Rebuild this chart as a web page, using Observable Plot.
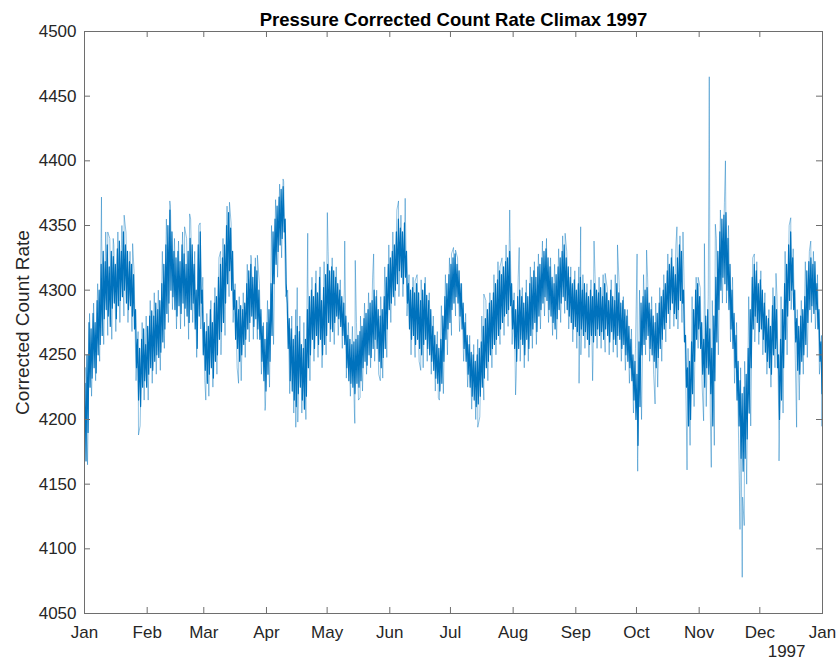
<!DOCTYPE html>
<html><head><meta charset="utf-8">
<script src="https://cdn.jsdelivr.net/npm/d3@7"></script>
<script src="https://cdn.jsdelivr.net/npm/@observablehq/plot@0.6"></script>
<style>body{margin:0;background:#fff;font-family:"Liberation Sans",Arial,Helvetica,sans-serif}</style>
</head><body><div id="chart"></div><script>
// Daily lower / upper extent of the dense core band (day 0 = 1 Jan 1997)
const lo = [
4168,4190,4225,4232,4240,4236,4250,4258,4265,4278,
4285,4280,4272,4286,4290,4278,4288,4292,4295,4300,
4290,4285,4288,4280,4270,4240,4215,4210,4225,4230,
4225,4235,4240,4238,4245,4250,4248,4252,4260,4270,
4282,4290,4300,4295,4285,4280,4288,4282,4290,4286,
4280,4275,4285,4290,4270,4255,4280,4290,4250,4238,
4228,4235,4240,4232,4245,4250,4262,4268,4275,4290,
4305,4315,4300,4285,4262,4255,4245,4250,4258,4262,
4270,4275,4280,4272,4278,4270,4262,4245,4230,4222,
4235,4245,4265,4305,4320,4330,4335,4340,4345,4305,
4255,4230,4222,4215,4210,4220,4225,4215,4208,4218,
4240,4250,4262,4255,4265,4258,4262,4250,4258,4265,
4275,4270,4268,4275,4280,4278,4272,4265,4258,4240,
4230,4228,4225,4220,4228,4225,4230,4240,4245,4242,
4250,4248,4255,4262,4255,4245,4240,4248,4255,4270,
4285,4290,4295,4300,4305,4315,4310,4305,4310,4290,
4270,4262,4265,4258,4262,4255,4250,4258,4262,4255,
4250,4245,4238,4232,4228,4222,4228,4245,4262,4270,
4275,4285,4290,4295,4290,4280,4270,4255,4245,4235,
4225,4218,4215,4210,4212,4218,4225,4232,4240,4245,
4250,4255,4258,4262,4265,4270,4275,4280,4282,4285,
4288,4270,4255,4245,4255,4262,4258,4250,4262,4255,
4265,4270,4275,4268,4280,4285,4290,4295,4292,4285,
4280,4275,4270,4278,4285,4290,4295,4292,4285,4280,
4275,4270,4272,4268,4265,4270,4265,4268,4262,4258,
4265,4260,4265,4270,4265,4268,4262,4270,4265,4260,
4268,4262,4258,4265,4262,4255,4258,4250,4245,4240,
4230,4215,4200,4180,4210,4250,4258,4262,4265,4255,
4250,4245,4240,4248,4255,4262,4270,4275,4282,4285,
4290,4282,4278,4285,4292,4290,4260,4225,4195,4200,
4220,4245,4262,4270,4255,4235,4225,4240,4235,4220,
4195,4230,4260,4285,4300,4310,4305,4300,4285,4270,
4255,4240,4215,4195,4170,4160,4170,4185,4205,4240,
4270,4280,4275,4268,4270,4262,4252,4245,4240,4235,
4250,4255,4240,4200,4215,4240,4262,4280,4292,4300,
4285,4260,4238,4235,4245,4250,4258,4275,4285,4288,
4282,4285,4270,4245,4220];
const hi = [
4228,4250,4275,4270,4282,4275,4292,4300,4320,4330,
4322,4335,4318,4330,4326,4320,4332,4338,4330,4345,
4335,4330,4322,4320,4312,4285,4262,4255,4262,4270,
4258,4272,4280,4284,4280,4290,4285,4292,4305,4320,
4335,4350,4362,4345,4330,4325,4330,4322,4335,4328,
4320,4330,4340,4335,4320,4300,4335,4345,4300,4275,
4268,4272,4285,4275,4290,4295,4310,4320,4325,4335,
4350,4360,4348,4330,4300,4292,4285,4288,4285,4290,
4305,4315,4320,4310,4318,4315,4300,4285,4272,4262,
4275,4285,4305,4345,4355,4365,4372,4378,4380,4355,
4290,4278,4270,4262,4265,4272,4268,4258,4255,4262,
4285,4295,4300,4295,4305,4298,4310,4292,4302,4312,
4320,4315,4318,4315,4310,4305,4300,4295,4290,4280,
4265,4262,4258,4260,4262,4265,4268,4272,4278,4282,
4285,4290,4292,4300,4295,4285,4280,4285,4295,4310,
4320,4325,4330,4335,4345,4355,4348,4345,4352,4330,
4305,4300,4302,4298,4305,4298,4292,4300,4305,4296,
4292,4285,4272,4265,4258,4255,4262,4280,4295,4305,
4312,4320,4325,4328,4320,4315,4305,4290,4275,4265,
4258,4252,4250,4245,4250,4255,4260,4272,4278,4285,
4290,4292,4298,4305,4308,4315,4312,4318,4322,4325,
4330,4305,4292,4285,4295,4300,4295,4290,4298,4295,
4305,4310,4315,4310,4318,4320,4325,4330,4332,4325,
4318,4310,4305,4312,4318,4325,4330,4335,4325,4318,
4310,4305,4308,4300,4305,4310,4300,4305,4298,4295,
4300,4295,4305,4300,4298,4302,4295,4305,4298,4292,
4300,4295,4292,4305,4298,4290,4292,4285,4280,4272,
4262,4250,4245,4235,4260,4290,4295,4300,4302,4290,
4285,4280,4275,4282,4290,4295,4300,4305,4315,4320,
4325,4318,4312,4325,4335,4330,4300,4265,4240,4245,
4260,4285,4300,4305,4295,4275,4262,4280,4285,4270,
4255,4280,4310,4330,4345,4355,4358,4360,4340,4320,
4300,4282,4265,4245,4230,4220,4225,4235,4255,4285,
4310,4320,4315,4305,4308,4300,4290,4280,4278,4272,
4288,4295,4285,4250,4262,4285,4305,4320,4335,4345,
4325,4300,4278,4272,4280,4285,4295,4315,4322,4325,
4320,4322,4305,4285,4260];
// Outer extent of the lighter fringe, one pair per two days
const fringeLo = [
4165,4218,4230,4245,4258,4265,4262,4268,4275,4280,
4275,4268,4230,4195,4215,4215,4228,4235,4238,4255,
4275,4285,4270,4270,4272,4262,4275,4248,4270,4230,
4218,4225,4235,4250,4265,4295,4275,4240,4230,4248,
4260,4262,4262,4235,4210,4225,4258,4310,4325,4295,
4220,4205,4198,4205,4200,4230,4245,4248,4240,4250,
4260,4258,4265,4255,4232,4218,4205,4215,4222,4235,
4240,4245,4235,4232,4248,4275,4288,4295,4295,4280,
4250,4248,4245,4240,4245,4235,4222,4215,4220,4250,
4265,4280,4268,4245,4225,4208,4200,4202,4215,4230,
4240,4250,4258,4265,4272,4258,4232,4245,4240,4245,
4255,4258,4270,4280,4275,4265,4262,4275,4282,4270,
4260,4255,4250,4255,4248,4245,4255,4255,4252,4250,
4252,4248,4245,4238,4228,4205,4170,4200,4250,4245,
4235,4225,4245,4260,4270,4272,4270,4275,4215,4180,
4210,4255,4225,4210,4205,4180,4250,4290,4290,4260,
4228,4185,4140,4150,4195,4260,4258,4250,4235,4225,
4240,4185,4205,4250,4285,4250,4215,4235,4248,4275,
4270,4235,4200];
const fringeHi = [
4240,4282,4290,4305,4340,4345,4340,4335,4345,4350,
4345,4330,4315,4268,4275,4280,4292,4298,4300,4330,
4355,4365,4340,4338,4345,4340,4355,4330,4350,4310,
4282,4292,4302,4325,4340,4365,4352,4305,4295,4298,
4320,4325,4325,4305,4275,4292,4350,4370,4382,4384,
4300,4280,4285,4280,4275,4305,4310,4315,4318,4322,
4330,4325,4318,4308,4300,4275,4272,4275,4280,4290,
4298,4310,4300,4295,4318,4335,4345,4362,4358,4360,
4312,4310,4312,4308,4310,4298,4280,4268,4288,4312,
4325,4333,4325,4305,4282,4265,4258,4262,4280,4292,
4298,4312,4322,4325,4335,4340,4298,4310,4302,4308,
4318,4322,4328,4338,4340,4325,4320,4332,4342,4330,
4318,4315,4318,4312,4305,4308,4312,4310,4312,4302,
4308,4312,4302,4295,4285,4270,4255,4300,4312,4310,
4295,4290,4302,4312,4328,4332,4335,4342,4310,4255,
4295,4310,4302,4292,4295,4292,4340,4362,4368,4350,
4310,4275,4240,4245,4295,4325,4322,4315,4298,4285,
4302,4295,4295,4330,4350,4332,4285,4292,4322,4330,
4330,4312,4265];
// Isolated hourly excursions: day of year, value
const spikeDay = [8.4,11.5,14.2,19.6,23.8,26.7,42.2,49.5,52,57.2,60,67.3,71.7,76.2,82.3,85.5,89.3,98.2,104.5,105.2,110.4,114.5,120.1,122.5,128.7,133.7,133.9,136.3,143,146.3,155.3,158.6,163.5,166.3,175,181.5,183.5,194.5,197.5,205.5,210.3,213.2,215,226.5,228.5,237.7,244.6,245.4,251.3,252,257.5,263.6,273.3,273.6,278,282.2,293,296,298,303.5,306.2,306.6,309,310,312,317,324.2,325.3,326.3,331.3,342,343.5,349.3,352.2,359.2,364.5];
const spikeVal = [4372,4345,4340,4358,4336,4188,4369,4349,4359,4352,4215,4330,4368,4228,4327,4327,4207,4386,4194,4302,4344,4313,4360,4325,4338,4197,4323,4217,4328,4230,4369,4371,4307,4238,4217,4328,4331,4194,4297,4318,4362,4219,4333,4333,4335,4344,4228,4349,4230,4338,4313,4335,4328,4160,4331,4212,4349,4345,4161,4310,4199,4336,4465,4163,4351,4400,4115,4078,4118,4328,4313,4168,4356,4194,4338,4195];
const yTicks = [4050,4100,4150,4200,4250,4300,4350,4400,4450,4500];
const monthLabels = ["Jan","Feb","Mar","Apr","May","Jun","Jul","Aug","Sep","Oct","Nov","Dec","Jan"];

const t0 = Date.UTC(1997,0,1);
const toDate = d => new Date(t0 + d*86400000);
const core = [];
for (let d = 0; d < lo.length; d++) {
  core.push({t: d + 0.25, v: hi[d]});
  core.push({t: d + 0.75, v: lo[d]});
}
const outer = [];
for (let k = 0; k < fringeHi.length; k++) {
  outer.push({t: 2*k + 0.5, v: fringeHi[k]});
  if (2*k + 1.5 < 365) outer.push({t: 2*k + 1.5, v: fringeLo[k]});
}
const lightPts = outer.concat(spikeDay.map((d, i) => ({t: d, v: spikeVal[i]})));
lightPts.sort((a, b) => a.t - b.t);
const lightSeries = lightPts.map(p => ({date: toDate(p.t), v: p.v}));
const coreSeries = core.map(p => ({date: toDate(p.t), v: p.v}));
const monthDates = monthLabels.map((m, i) => new Date(Date.UTC(1997, i, 1)));

const W = 837, H = 661, mt = 31, mr = 15, mb = 48, ml = 84;
const pw = W - ml - mr, ph = H - mt - mb;
const axisColor = "#6e6e6e";
const font = "Liberation Sans, Arial, Helvetica, sans-serif";

const chart = Plot.plot({
  width: W, height: H,
  marginTop: mt, marginRight: mr, marginBottom: mb, marginLeft: ml,
  style: {fontFamily: font, color: "#262626", background: "#fff"},
  x: {type: "utc", domain: [monthDates[0], monthDates[12]], label: null},
  y: {domain: [4050, 4500], label: null},
  marks: [
    Plot.line(lightSeries, {x: "date", y: "v", stroke: "#0072BD", strokeOpacity: 0.55, strokeWidth: 0.8}),
    Plot.line(coreSeries, {x: "date", y: "v", stroke: "#0072BD", strokeWidth: 1.2}),
    Plot.frame({stroke: axisColor, strokeWidth: 1}),
    Plot.tickX(monthDates, {x: d => d, insetTop: ph - 6, stroke: axisColor}),
    Plot.tickX(monthDates, {x: d => d, insetBottom: ph - 6, stroke: axisColor}),
    Plot.tickY(yTicks, {y: d => d, insetRight: pw - 6, stroke: axisColor}),
    Plot.tickY(yTicks, {y: d => d, insetLeft: pw - 6, stroke: axisColor}),
    Plot.axisX({ticks: monthDates, tickSize: 0, tickPadding: 12, fontSize: 17,
      tickFormat: d => monthLabels[monthDates.findIndex(m => +m === +d)], label: null}),
    Plot.axisY({ticks: yTicks, tickSize: 0, tickPadding: 8, fontSize: 17, tickFormat: d => String(d), label: null}),
    Plot.text(["Corrected Count Rate"], {frameAnchor: "left", rotate: -90, textAnchor: "middle", dx: -62, fontSize: 19, fill: "#262626"}),
    Plot.text(["1997"], {frameAnchor: "bottom-right", dx: -17, dy: 43, fontSize: 17, fill: "#262626"}),
    Plot.text(["Pressure Corrected Count Rate Climax 1997"], {frameAnchor: "top", dy: -19, fontSize: 18.5, fontWeight: "bold", fill: "#000"})
  ]
});
document.getElementById("chart").appendChild(chart);
</script></body></html>
